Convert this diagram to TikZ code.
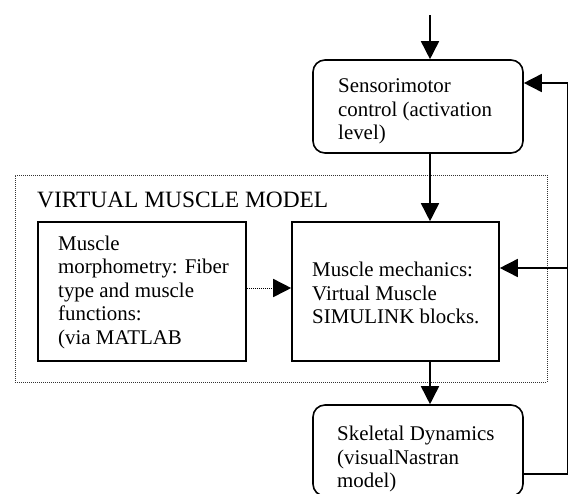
\documentclass[tikz,border=0pt]{standalone}
\usepackage{fontspec}
\setmainfont{Liberation Serif}
\usetikzlibrary{arrows.meta}
\begin{document}
\begin{tikzpicture}[x=1pt,y=-1pt,
  box/.style={draw,line width=1.6pt,inner sep=0pt},
  rbox/.style={box,rounded corners=12pt},
  txt/.style={inner sep=0pt,align=left,anchor=west,font=\fontsize{20.9}{23.5}\selectfont},
  conn/.style={line width=1.6pt,-{Triangle[length=18pt,width=18pt]}},
  frame/.style={draw=black!80,line width=0.9pt,dash pattern=on 1pt off 1pt,inner sep=0pt}]
\useasboundingbox[fill=white] (0,0) rectangle (569,493);
% frame
\node[frame,minimum width=532pt,minimum height=207pt] (frm) at (281,278.5) {};
\node[inner sep=0pt,anchor=base west,font=\fontsize{23.4}{26}\selectfont] (ttl) at (37,207) {VIRTUAL MUSCLE MODEL};
% boxes
\node[rbox,minimum width=210pt,minimum height=93pt] (sens) at (418,106.5) {};
\node[txt] (senst) at (338,111.5) {Sensorimotor\\control (activation\\level)};
\node[box,minimum width=208pt,minimum height=139pt] (left) at (142,291.5) {};
\node[txt] (leftt) at (58,292) {Muscle\\morphometry: Fiber\\type and muscle\\functions:\\(via MATLAB};
\node[box,minimum width=207pt,minimum height=139pt] (mid) at (395.5,291.5) {};
\node[txt] (midt) at (312,293) {Muscle mechanics:\\Virtual Muscle\\SIMULINK blocks.};
\node[rbox,minimum width=210pt,minimum height=91pt] (skel) at (418,450.5) {};
\node[txt] (skelt) at (337,459) {Skeletal Dynamics\\(visualNastran\\model)};
% coordinates
\coordinate (top) at (430,15);
\coordinate (fbS) at (567.6,83);
\coordinate (fbM) at (567.6,268);
\coordinate (fbK) at (567.6,474);
\coordinate (dot) at (246,288);
% connectors
\draw[conn] (top) -- (top |- sens.north);
\draw[conn] (top |- sens.south) -- (top |- mid.north);
\draw[conn] (top |- mid.south) -- (top |- skel.north);
\draw[conn] (skel.east |- fbK) -- (fbK) -- (fbS) -- (sens.east |- fbS);
\draw[conn] (fbM) -- (mid.east |- fbM);
\draw[line width=1pt,dash pattern=on 1pt off 1pt] (left.east |- dot) -- ([xshift=-17pt]mid.west |- dot);
\draw[conn] ([xshift=-18pt]mid.west |- dot) -- (mid.west |- dot);
\end{tikzpicture}
\end{document}
